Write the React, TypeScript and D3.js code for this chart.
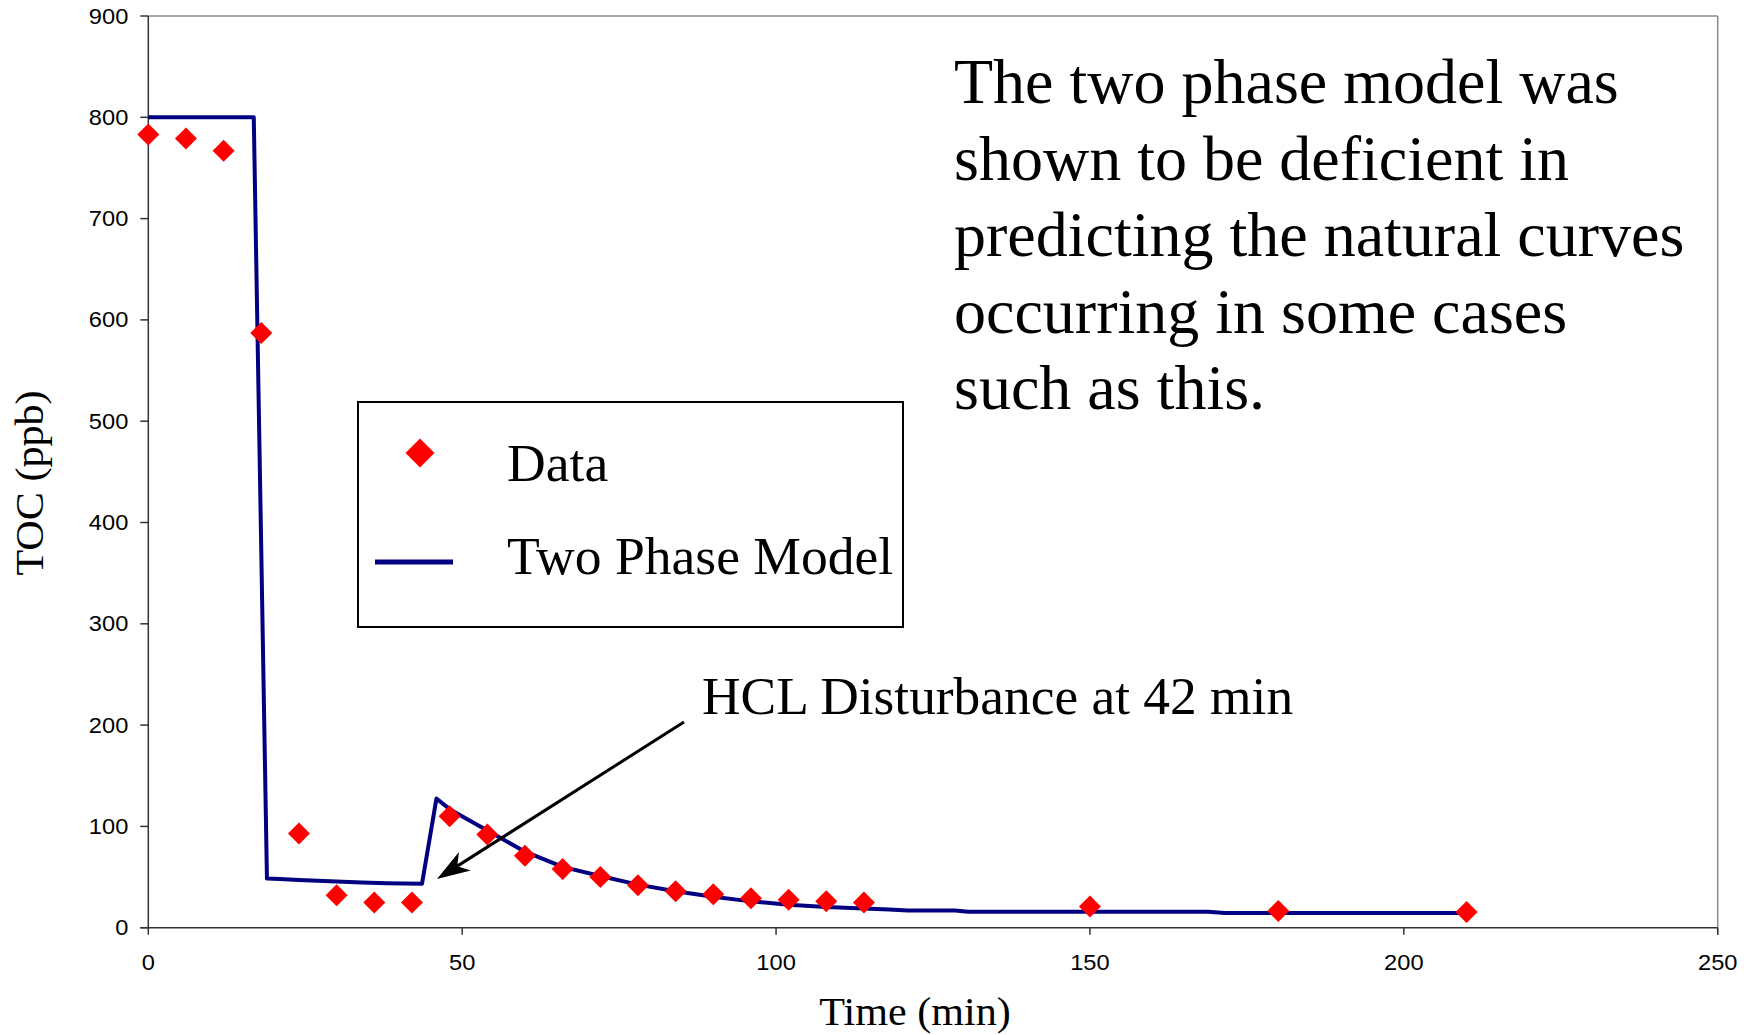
import React from "react";
import * as d3 from "d3";

// ---- Data ----
const dataTime = [0, 6, 12, 18, 24, 30, 36, 42, 48, 54, 60, 66, 72, 78, 84, 90, 96, 102, 108, 114, 150, 180, 210];
const dataTOC = [783, 779, 767, 587, 93, 32, 25, 25, 110, 92, 71, 58, 50, 42, 36, 33, 29, 27.5, 26, 25, 21, 16.5, 15.5];

const modelTime = [0, 16.8, 18.9, 21, 24, 28, 34, 38, 43.6, 45.9, 48, 54, 60, 66, 72, 78, 84, 90, 96, 102, 108, 114, 118, 121, 128.5, 130.6, 168.8, 171.5, 210];
const modelTOC = [800, 800, 48.5, 48, 47, 46, 44.6, 44, 43.4, 127.5, 117, 96, 75, 60, 51, 42.5, 36, 30.5, 26, 22.7, 20.5, 19, 18, 17, 17, 15.8, 15.8, 14.5, 14.5];

const xTicks = [0, 50, 100, 150, 200, 250];
const yTicks = [0, 100, 200, 300, 400, 500, 600, 700, 800, 900];

const noteLines = [
  "The two phase model was",
  "shown to be deficient in",
  "predicting the natural curves",
  "occurring in some cases",
  "such as this.",
];
const arrowLabel = "HCL Disturbance at 42 min";
const legendLabels = ["Data", "Two Phase Model"];

const W = 1756;
const H = 1035;
const left = 148.3, right = 1717.7, top = 16, bottom = 927.7;

const serif = "'Liberation Serif', 'Times New Roman', serif";
const sans = "'Liberation Sans', Arial, sans-serif";

function diamond(cx: number, cy: number, r: number) {
  return `M${cx},${cy - r}L${cx + r},${cy}L${cx},${cy + r}L${cx - r},${cy}Z`;
}

export default function App() {
  const x = d3.scaleLinear().domain([0, 250]).range([left, right]);
  const y = d3.scaleLinear().domain([0, 900]).range([bottom, top]);

  const model = modelTime.map((t, i) => [t, modelTOC[i]] as [number, number]);
  const line = d3
    .line<[number, number]>()
    .x((d) => x(d[0]))
    .y((d) => y(d[1]));

  // arrow geometry
  const ax0 = 684, ay0 = 722, ax1 = 437, ay1 = 879;
  const ang = Math.atan2(ay1 - ay0, ax1 - ax0);
  const headLen = 33, headW = 11, notch = 24;
  const ux = Math.cos(ang), uy = Math.sin(ang);
  const px = -uy, py = ux;
  const b1x = ax1 - ux * headLen + px * headW, b1y = ay1 - uy * headLen + py * headW;
  const b2x = ax1 - ux * headLen - px * headW, b2y = ay1 - uy * headLen - py * headW;
  const nx = ax1 - ux * notch, ny = ay1 - uy * notch;

  return (
    <div style={{ position: "absolute", left: 0, top: 0 }}>
      <svg width={W} height={H} style={{ display: "block", background: "#fff" }}>
        {/* frame top & right */}
        <line x1={left} y1={top} x2={right} y2={top} stroke="#8a8a8a" strokeWidth={1.5} />
        <line x1={right} y1={top} x2={right} y2={bottom + 7} stroke="#8a8a8a" strokeWidth={1.5} />
        {/* axes */}
        <line x1={left} y1={top} x2={left} y2={bottom} stroke="#333" strokeWidth={1.5} />
        <line x1={left - 8} y1={bottom} x2={right} y2={bottom} stroke="#333" strokeWidth={1.5} />
        {yTicks.map((t) => (
          <g key={"y" + t}>
            <line x1={left - 8} x2={left} y1={y(t)} y2={y(t)} stroke="#333" strokeWidth={1.5} />
            <text
              transform={`translate(${left - 20},${y(t) + 7.5}) scale(1.1,1)`}
              textAnchor="end"
              fontFamily={sans}
              fontSize={21.5}
              fill="#000"
            >
              {t}
            </text>
          </g>
        ))}
        {xTicks.map((t) => (
          <g key={"x" + t}>
            <line x1={x(t)} x2={x(t)} y1={bottom} y2={bottom + 7} stroke="#333" strokeWidth={1.5} />
            <text
              transform={`translate(${x(t)},${bottom + 42}) scale(1.1,1)`}
              textAnchor="middle"
              fontFamily={sans}
              fontSize={21.5}
              fill="#000"
            >
              {t}
            </text>
          </g>
        ))}
        {/* axis titles */}
        <text
          transform={`translate(${(left + right) / 2 - 18},${1025}) scale(1.08,1)`}
          textAnchor="middle"
          fontFamily={serif}
          fontSize={39}
        >
          Time (min)
        </text>
        <text
          transform={`translate(43,${483}) rotate(-90) scale(1.08,1)`}
          textAnchor="middle"
          fontFamily={serif}
          fontSize={39}
        >
          TOC (ppb)
        </text>

        {/* model line */}
        <path d={line(model) || ""} fill="none" stroke="#000080" strokeWidth={4} strokeLinejoin="round" />

        {/* data points */}
        {dataTime.map((t, i) => (
          <path key={"d" + i} d={diamond(x(t), y(dataTOC[i]), 11)} fill="#ff0000" />
        ))}

        {/* arrow */}
        <line x1={ax0} y1={ay0} x2={nx} y2={ny} stroke="#000" strokeWidth={3} />
        <path d={`M${ax1},${ay1}L${b1x},${b1y}L${nx},${ny}L${b2x},${b2y}Z`} fill="#000" />
        <text x={702} y={714} fontFamily={serif} fontSize={53.4} fill="#000">
          {arrowLabel}
        </text>

        {/* legend */}
        <rect x={358} y={402} width={545} height={225} fill="#fff" stroke="#000" strokeWidth={2} />
        <path d={diamond(420, 453, 14.5)} fill="#ff0000" />
        <line x1={375} x2={453} y1={562} y2={562} stroke="#000080" strokeWidth={5} />
        <text x={507} y={481} fontFamily={serif} fontSize={53.6}>
          {legendLabels[0]}
        </text>
        <text x={507} y={574} fontFamily={serif} fontSize={53.6}>
          {legendLabels[1]}
        </text>

        {/* note */}
        {noteLines.map((s, i) => (
          <text key={"n" + i} x={954} y={103 + i * 76.5} fontFamily={serif} fontSize={64} fill="#000">
            {s}
          </text>
        ))}
      </svg>
    </div>
  );
}
